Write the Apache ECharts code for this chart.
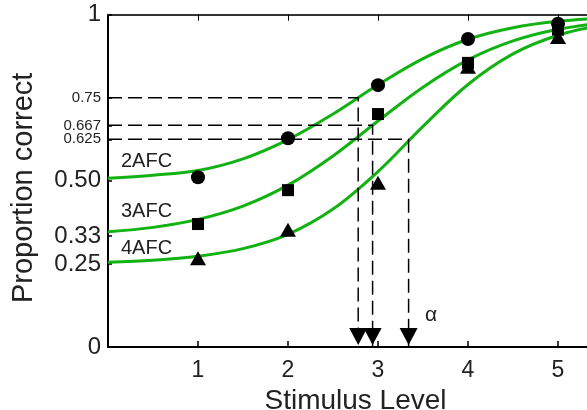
<!DOCTYPE html>
<html>
<head>
<meta charset="utf-8">
<script src="https://cdn.jsdelivr.net/npm/echarts@6/dist/echarts.min.js"></script>
<style>
  html, body { margin: 0; padding: 0; background: #fff; }
  #chart { width: 587px; height: 410px; }
</style>
</head>
<body>
<div id="chart"></div>
<script>
// Observed proportion correct at each stimulus level
const stimulus = [1, 2, 3, 4, 5];
const pc2afc = [0.511, 0.628, 0.788, 0.927, 0.973];
const pc3afc = [0.370, 0.472, 0.701, 0.855, 0.955];
const pc4afc = [0.267, 0.353, 0.494, 0.843, 0.933];

// Fitted psychometric functions, sampled along the stimulus axis
const curveX = [0, 0.5, 1, 1.5, 2, 2.5, 3, 3.5, 4, 4.5, 5, 5.5];
const fit2afc = [0.508, 0.517, 0.531, 0.566, 0.624, 0.701, 0.789, 0.868, 0.926, 0.961, 0.980, 0.990];
const fit3afc = [0.347, 0.360, 0.384, 0.424, 0.487, 0.575, 0.680, 0.782, 0.864, 0.921, 0.956, 0.976];
const fit4afc = [0.255, 0.261, 0.273, 0.296, 0.339, 0.415, 0.528, 0.664, 0.790, 0.882, 0.938, 0.969];

// Threshold levels and the stimulus values (α) where each fit reaches them
const thrY = [0.75, 0.667, 0.625];
const thrX = [2.78, 2.94, 3.34];

// Y-axis tick marks and their labels
const yTickValues = [0, 0.25, 1 / 3, 0.5, 0.625, 2 / 3, 0.75, 1];
const yTickLabels = ['0', '0.25', '0.33', '0.50', '0.625', '0.667', '0.75', '1'];

const seriesNames = ['2AFC', '3AFC', '4AFC'];
const FONT = '"Liberation Sans", Arial, Helvetica, sans-serif';
const GREEN = '#12b212';
const TEXT = '#222';

const chart = echarts.init(document.getElementById('chart'));

const zip = (xs, ys) => xs.map((x, i) => [x, ys[i]]);

function yLabel(value) {
  const i = yTickValues.findIndex(v => Math.abs(v - value) < 1e-3);
  if (i < 0) return '';
  const isThreshold = thrY.some(t => Math.abs(t - value) < 1e-3);
  return isThreshold ? '{s|' + yTickLabels[i] + '}' : '{b|' + yTickLabels[i] + '}';
}

const fits = [fit2afc, fit3afc, fit4afc];
const obs = [pc2afc, pc3afc, pc4afc];
const symbols = [
  { symbol: 'circle', size: 14 },
  { symbol: 'rect', size: 12 },
  { symbol: 'triangle', size: [16, 14] }
];

const series = [];

fits.forEach((fit, i) => {
  series.push({
    name: seriesNames[i] + ' fit',
    type: 'line',
    data: zip(curveX, fit),
    smooth: 0.35,
    showSymbol: false,
    lineStyle: { color: GREEN, width: 3 },
    z: 2,
    silent: true
  });
});

thrX.forEach((x, i) => {
  series.push({
    name: 'threshold ' + seriesNames[i],
    type: 'line',
    data: [[0, thrY[i]], [x, thrY[i]], [x, 0]],
    showSymbol: false,
    lineStyle: { color: '#000', width: 1.5, type: [14, 6] },
    z: 3,
    silent: true
  });
});

obs.forEach((vals, i) => {
  series.push({
    name: seriesNames[i],
    type: 'scatter',
    data: zip(stimulus, vals),
    symbol: symbols[i].symbol,
    symbolSize: symbols[i].size,
    itemStyle: { color: '#000', opacity: 1 },
    clip: false,
    z: 5
  });
});

series.push({
  name: 'alpha',
  type: 'scatter',
  data: thrX.map(x => [x, 0]),
  symbol: 'triangle',
  symbolRotate: 180,
  symbolSize: [18, 17],
  symbolOffset: [0, -10.5],
  itemStyle: { color: '#000', opacity: 1 },
  clip: false,
  z: 6
});

const option = {
  animation: false,
  backgroundColor: '#fff',
  textStyle: { fontFamily: FONT },
  grid: { left: 108, top: 14.7, width: 495, height: 332.3, containLabel: false, outerBoundsMode: 'none' },
  xAxis: [
    {
      type: 'value',
      min: 0,
      max: 5.5,
      interval: 1,
      name: 'Stimulus Level',
      nameLocation: 'middle',
      nameGap: 38,
      nameTextStyle: { fontFamily: FONT, fontSize: 28, color: TEXT },
      splitLine: { show: false },
      axisLine: { show: true, onZero: false, lineStyle: { color: '#000', width: 2 } },
      axisTick: { inside: true, length: 6, customValues: stimulus, lineStyle: { color: '#000', width: 1.5 } },
      axisLabel: { customValues: stimulus, fontFamily: FONT, fontSize: 23, color: TEXT, margin: 12 }
    },
    {
      type: 'value',
      position: 'top',
      min: 0,
      max: 5.5,
      interval: 1,
      splitLine: { show: false },
      axisLine: { show: true, onZero: false, lineStyle: { color: '#333', width: 2 } },
      axisTick: { inside: true, length: 6, customValues: stimulus, lineStyle: { color: '#000', width: 1 } },
      axisLabel: { show: false }
    }
  ],
  yAxis: {
    type: 'value',
    min: 0,
    max: 1,
    name: 'Proportion correct',
    nameLocation: 'middle',
    nameGap: 70,
    nameRotate: 90,
    nameTextStyle: { fontFamily: FONT, fontSize: 29, color: TEXT, padding: [0, 0, 0, -14] },
    splitLine: { show: false },
    axisLine: { show: true, onZero: false, lineStyle: { color: '#000', width: 2 } },
    axisTick: { inside: true, length: 4, customValues: yTickValues, lineStyle: { color: '#000', width: 1.5 } },
    axisLabel: {
      customValues: yTickValues,
      margin: 7,
      formatter: yLabel,
      rich: {
        b: { fontFamily: FONT, fontSize: 24, color: TEXT },
        s: { fontFamily: FONT, fontSize: 15, color: TEXT }
      }
    }
  },
  graphic: [
    { type: 'text', left: 121, top: 151, style: { text: seriesNames[0], fontFamily: FONT, fontSize: 20, fill: TEXT } },
    { type: 'text', left: 121, top: 201, style: { text: seriesNames[1], fontFamily: FONT, fontSize: 20, fill: TEXT } },
    { type: 'text', left: 121, top: 238, style: { text: seriesNames[2], fontFamily: FONT, fontSize: 20, fill: TEXT } },
    { type: 'text', left: 425, top: 305, style: { text: 'α', fontFamily: FONT, fontSize: 21, fill: TEXT } }
  ],
  series: series
};

chart.setOption(option);
</script>
</body>
</html>
